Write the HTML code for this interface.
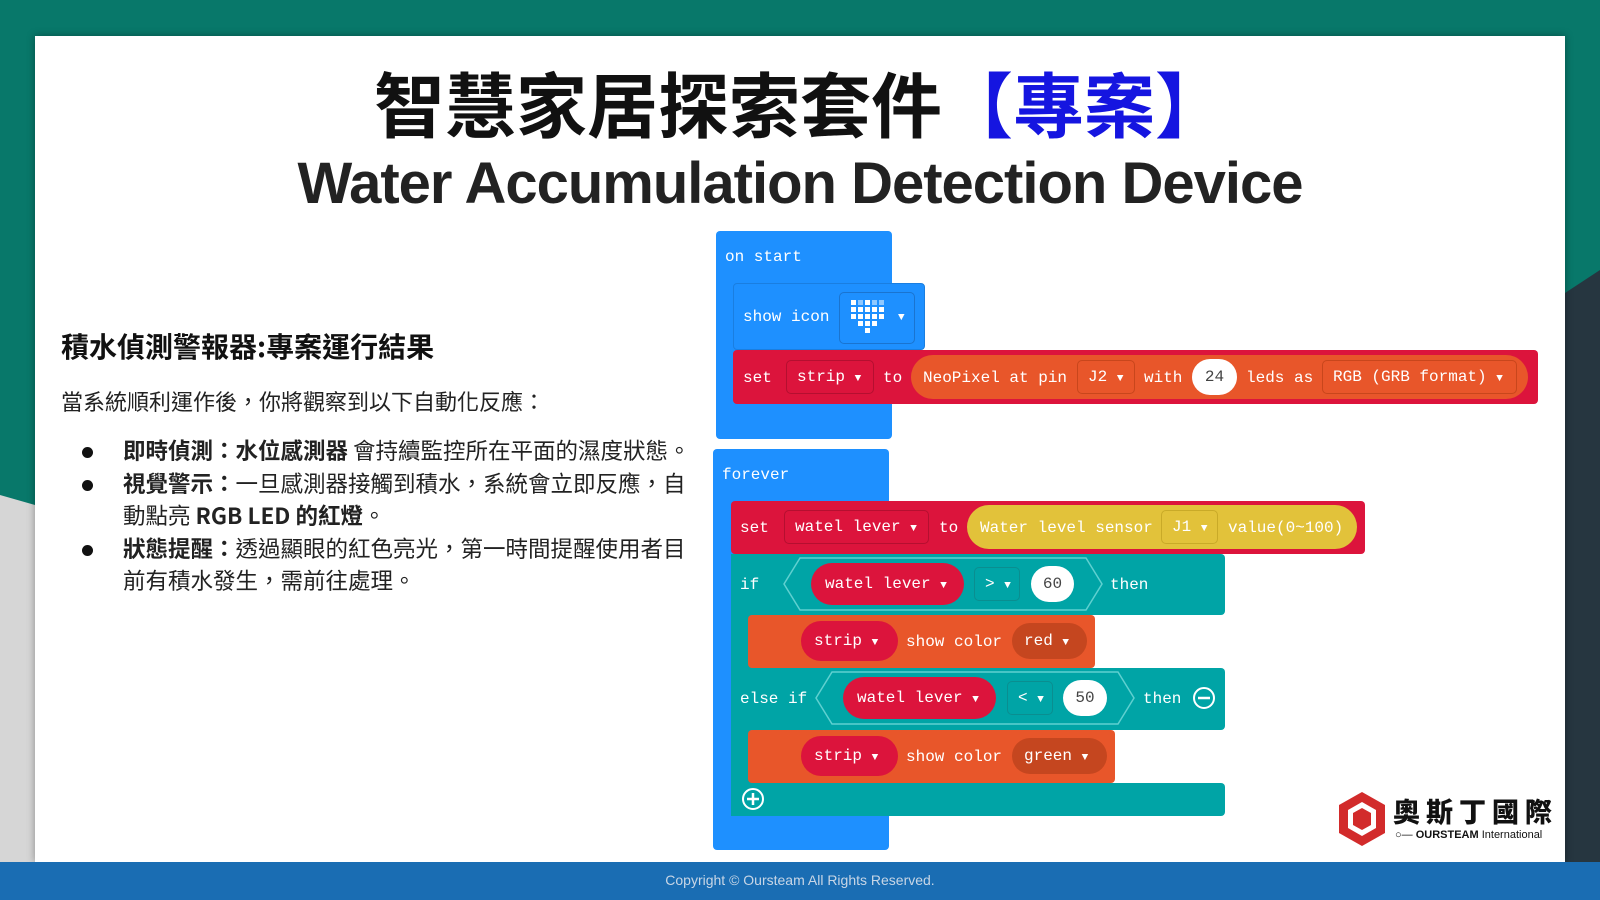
<!DOCTYPE html>
<html><head><meta charset="utf-8"><style>
*{margin:0;padding:0;box-sizing:border-box}
body{width:1600px;height:900px;position:relative;overflow:hidden;background:#08786a;font-family:"Liberation Sans","Noto Sans CJK TC",sans-serif}
.a{position:absolute}
.m{font-family:"Liberation Mono","DejaVu Sans Mono",monospace;font-size:16px;color:#fff;white-space:nowrap;line-height:20px}
.t{position:absolute;transform:translateY(-50%)}
.dd{position:absolute;border-radius:5px;height:34px;transform:translateY(-50%);padding-left:10px;line-height:32px}
.pill{position:absolute;transform:translateY(-50%);border-radius:22px}
.circ{position:absolute;transform:translateY(-50%);background:#fff;color:#444;text-align:center;border-radius:50%}
.arr{font-size:11px}
.bl{position:relative;padding-left:43px;white-space:nowrap}
.bl i{position:absolute;left:2px;top:13px;width:11px;height:11px;border-radius:50%;background:#111}
</style></head><body>
<svg class="a" style="left:0;top:0" width="1600" height="900">
<polygon points="1565,293 1600,270 1600,900 1565,900" fill="#263640"/>
<polygon points="0,495 35,505 35,900 0,900" fill="#d6d6d6"/>
</svg>
<div class="a" style="left:35px;top:36px;width:1530px;height:826px;background:#fff;box-shadow:0 0 8px rgba(0,0,0,.35)"></div>
<div class="a" style="left:0;top:862px;width:1600px;height:38px;background:#1a6db3"></div>
<div class="a" style="left:0;top:872px;width:1600px;text-align:center;color:#c8d6e6;font-size:14px">Copyright © Oursteam All Rights Reserved.</div>

<div class="a" style="left:0;top:60px;width:1600px;text-align:center;font-size:71px;line-height:84px;color:#111;font-family:'Noto Sans CJK TC',sans-serif;font-weight:700">智慧家居探索套件<span style="color:#1515e0">【專案】</span></div>
<div class="a" style="left:0;top:150px;width:1600px;text-align:center;font-size:58px;line-height:68px;color:#222;font-weight:700;letter-spacing:-1px">Water Accumulation Detection Device</div>

<div class="a" style="left:61px;top:326px;font-size:28px;font-weight:700;color:#111;font-family:'Noto Sans CJK TC',sans-serif;white-space:nowrap">積水偵測警報器:專案運行結果</div>
<div class="a" style="left:61px;top:385px;font-size:22px;color:#222;font-family:'Noto Sans CJK TC',sans-serif;white-space:nowrap">當系統順利運作後，你將觀察到以下自動化反應：</div>
<div class="a" style="left:80px;top:434px;font-size:22.5px;line-height:32.5px;color:#222;font-family:'Noto Sans CJK TC',sans-serif">
<div class="bl"><i></i><b>即時偵測：水位感測器</b> 會持續監控所在平面的濕度狀態。</div>
<div class="bl"><i></i><b>視覺警示：</b>一旦感測器接觸到積水，系統會立即反應，自</div>
<div class="bl">動點亮 <b>RGB LED 的紅燈</b>。</div>
<div class="bl"><i></i><b>狀態提醒：</b>透過顯眼的紅色亮光，第一時間提醒使用者目</div>
<div class="bl">前有積水發生，需前往處理。</div>
</div>

<!-- on start -->
<div class="a" style="left:716px;top:231px;width:176px;height:208px;background:#1e90ff;border-radius:4px"></div>
<div class="m t" style="left:725px;top:257px">on start</div>
<div class="a" style="left:733px;top:283px;width:192px;height:67px;background:#1e90ff;border:1px solid #1a7ee0;border-radius:4px"></div>
<div class="m t" style="left:743px;top:317px">show icon</div>
<div class="a" style="left:839px;top:292px;width:76px;height:52px;border:1px solid #1a74d0;border-radius:5px"></div>
<svg class="a" style="left:848px;top:298px" width="40" height="40">
<g fill="#fff">
<rect x="3" y="2" width="5" height="5"/><rect x="17" y="2" width="5" height="5"/><rect x="10" y="2" width="5" height="5" opacity=".5"/><rect x="24" y="2" width="5" height="5" opacity=".5"/><rect x="31" y="2" width="5" height="5" opacity=".5"/>
<rect x="3" y="9" width="5" height="5"/><rect x="10" y="9" width="5" height="5"/><rect x="17" y="9" width="5" height="5"/><rect x="24" y="9" width="5" height="5"/><rect x="31" y="9" width="5" height="5"/>
<rect x="3" y="16" width="5" height="5"/><rect x="10" y="16" width="5" height="5"/><rect x="17" y="16" width="5" height="5"/><rect x="24" y="16" width="5" height="5"/><rect x="31" y="16" width="5" height="5"/>
<rect x="10" y="23" width="5" height="5"/><rect x="17" y="23" width="5" height="5"/><rect x="24" y="23" width="5" height="5"/>
<rect x="17" y="30" width="5" height="5"/>
</g></svg>
<div class="m t arr" style="left:898px;top:318px">▼</div>

<div class="a" style="left:733px;top:350px;width:805px;height:54px;background:#dc143c;border-radius:4px"></div>
<div class="m t" style="left:743px;top:378px">set</div>
<div class="dd m" style="left:786px;top:377px;width:88px;border:1px solid #b50f30">strip <span class="arr">▼</span></div>
<div class="m t" style="left:883px;top:378px">to</div>
<div class="pill" style="left:911px;top:377px;width:617px;height:44px;background:#e8562a"></div>
<div class="m t" style="left:923px;top:378px">NeoPixel at pin</div>
<div class="dd m" style="left:1077px;top:377px;width:58px;border:1px solid #c8461c">J2 <span class="arr">▼</span></div>
<div class="m t" style="left:1144px;top:378px">with</div>
<div class="circ m" style="left:1192px;top:377px;width:45px;height:36px;border-radius:18px;line-height:36px;color:#444">24</div>
<div class="m t" style="left:1246px;top:378px">leds as</div>
<div class="dd m" style="left:1322px;top:377px;width:195px;border:1px solid #c8461c">RGB (GRB format) <span class="arr">▼</span></div>

<!-- forever -->
<div class="a" style="left:713px;top:449px;width:176px;height:401px;background:#1e90ff;border-radius:4px"></div>
<div class="m t" style="left:722px;top:475px">forever</div>
<div class="a" style="left:731px;top:501px;width:634px;height:53px;background:#dc143c;border-radius:4px"></div>
<div class="m t" style="left:740px;top:528px">set</div>
<div class="dd m" style="left:784px;top:527px;width:145px;border:1px solid #b50f30">watel lever <span class="arr">▼</span></div>
<div class="m t" style="left:939px;top:528px">to</div>
<div class="pill" style="left:967px;top:527px;width:390px;height:44px;background:#e2c23a"></div>
<div class="m t" style="left:980px;top:528px">Water level sensor</div>
<div class="dd m" style="left:1161px;top:527px;width:57px;border:1px solid #c9aa28">J1 <span class="arr">▼</span></div>
<div class="m t" style="left:1228px;top:528px">value(0~100)</div>

<!-- if -->
<div class="a" style="left:731px;top:554px;width:494px;height:61px;background:#00a4a6;border-radius:0 4px 4px 0"></div>
<div class="a" style="left:731px;top:554px;width:20px;height:262px;background:#00a4a6"></div>
<div class="a" style="left:731px;top:668px;width:494px;height:62px;background:#00a4a6;border-radius:0 4px 4px 0"></div>
<div class="a" style="left:731px;top:783px;width:494px;height:33px;background:#00a4a6;border-radius:0 4px 4px 4px"></div>
<svg class="a" style="left:0;top:0" width="1600" height="900">
<polygon points="800,558 1086,558 1102,584 1086,610 800,610 784,584" fill="none" stroke="#5fd0d0" stroke-width="1.5"/>
<polygon points="832,672 1118,672 1134,698 1118,724 832,724 816,698" fill="none" stroke="#5fd0d0" stroke-width="1.5"/>
<circle cx="1204" cy="698" r="10" fill="none" stroke="#fff" stroke-width="2"/><line x1="1198" y1="698" x2="1210" y2="698" stroke="#fff" stroke-width="2.5"/>
<circle cx="753" cy="799" r="10" fill="none" stroke="#fff" stroke-width="2"/><line x1="747" y1="799" x2="759" y2="799" stroke="#fff" stroke-width="2.5"/><line x1="753" y1="793" x2="753" y2="805" stroke="#fff" stroke-width="2.5"/>
</svg>
<div class="m t" style="left:740px;top:585px">if</div>
<div class="pill m" style="left:811px;top:584px;width:153px;height:42px;background:#dc143c;line-height:42px;padding-left:14px;border-radius:21px">watel lever <span class="arr">▼</span></div>
<div class="dd m" style="left:974px;top:584px;width:46px;border:1px solid #0a8e90">&gt; <span class="arr">▼</span></div>
<div class="circ m" style="left:1031px;top:584px;width:43px;height:36px;border-radius:18px;line-height:36px">60</div>
<div class="m t" style="left:1110px;top:585px">then</div>

<div class="a" style="left:748px;top:615px;width:347px;height:53px;background:#e8562a;border-radius:4px"></div>
<div class="pill m" style="left:801px;top:641px;width:97px;height:40px;background:#dc143c;line-height:40px;padding-left:13px;border-radius:20px">strip <span class="arr">▼</span></div>
<div class="m t" style="left:906px;top:642px">show color</div>
<div class="pill m" style="left:1012px;top:641px;width:75px;height:36px;background:#c5461f;line-height:36px;padding-left:12px;border-radius:18px">red <span class="arr">▼</span></div>

<div class="m t" style="left:740px;top:699px">else if</div>
<div class="pill m" style="left:843px;top:698px;width:153px;height:42px;background:#dc143c;line-height:42px;padding-left:14px;border-radius:21px">watel lever <span class="arr">▼</span></div>
<div class="dd m" style="left:1007px;top:698px;width:46px;border:1px solid #0a8e90">&lt; <span class="arr">▼</span></div>
<div class="circ m" style="left:1063px;top:698px;width:44px;height:36px;border-radius:18px;line-height:36px">50</div>
<div class="m t" style="left:1143px;top:699px">then</div>

<div class="a" style="left:748px;top:730px;width:367px;height:53px;background:#e8562a;border-radius:4px"></div>
<div class="pill m" style="left:801px;top:756px;width:97px;height:40px;background:#dc143c;line-height:40px;padding-left:13px;border-radius:20px">strip <span class="arr">▼</span></div>
<div class="m t" style="left:906px;top:757px">show color</div>
<div class="pill m" style="left:1012px;top:756px;width:95px;height:36px;background:#c5461f;line-height:36px;padding-left:12px;border-radius:18px">green <span class="arr">▼</span></div>

<!-- logo -->
<svg class="a" style="left:1336px;top:790px" width="52" height="58">
<polygon points="26,2 49,15 49,43 26,56 3,43 3,15" fill="#d22b2b"/>
<polygon points="26,12 40,20 40,38 26,46 12,38 12,20" fill="#fff"/>
<polygon points="26,18 35,23 35,35 26,40 17,35 17,23" fill="#d22b2b"/>
</svg>
<div class="a" style="left:1393px;top:796px;font-size:27px;font-weight:900;color:#111;letter-spacing:6px;font-family:'Noto Sans CJK TC',sans-serif;line-height:30px">奧斯丁國際</div>
<div class="a" style="left:1395px;top:829px;font-size:11px;color:#111;white-space:nowrap">○— <b>OURSTEAM</b> International</div>
</body></html>
